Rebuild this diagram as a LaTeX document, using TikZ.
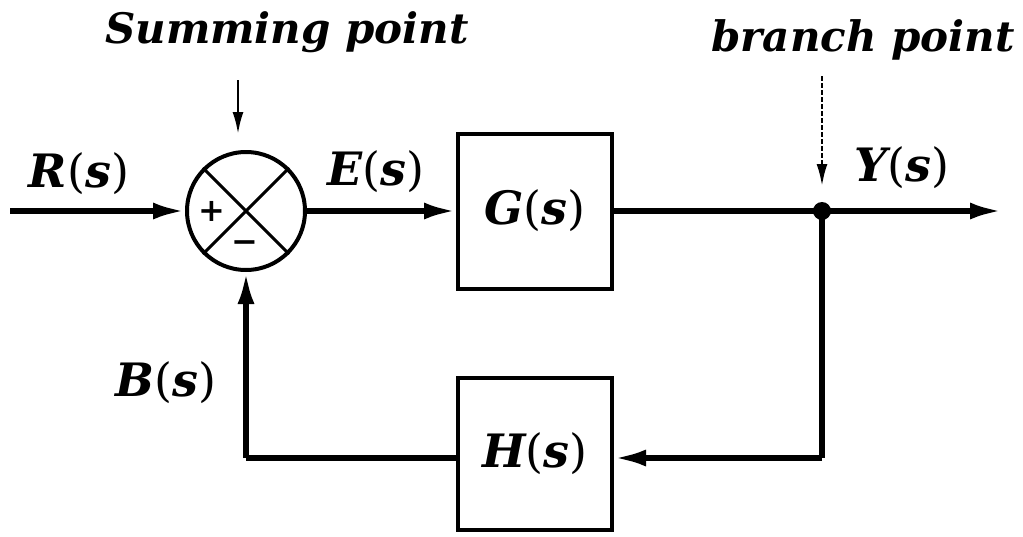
\documentclass[tikz,border=0pt]{standalone}
\usepackage{fontspec}
\setmainfont{DejaVu Serif}
\usetikzlibrary{arrows.meta}
\newcommand{\lbl}[1]{{\bfseries\itshape #1}{\mdseries\upshape(}{\bfseries\itshape s}{\mdseries\upshape)}}
\tikzset{
  wire/.style={line width=5.5pt},
  arr/.style={wire,-{Latex[length=32pt,width=17pt]}},
  blk/.style={draw,line width=4pt,minimum width=154pt,minimum height=155pt,inner sep=0pt,font=\fontsize{46}{50}\selectfont},
  lab/.style={font=\fontsize{46}{50}\selectfont,inner sep=0pt},
  ttl/.style={font=\fontsize{42}{46}\selectfont\bfseries\itshape,inner sep=0pt},
  pointer/.style={line width=2.5pt,-{Latex[length=22pt,width=11pt]}},
  sign/.style={font=\fontsize{32}{32}\selectfont\bfseries,inner sep=0pt}
}
\begin{document}
\begin{tikzpicture}[x=1pt,y=-1pt]
\useasboundingbox (0,0) rectangle (1023,536);
% summing junction
\node[draw,circle,line width=4pt,minimum size=118pt,inner sep=0pt] (sum) at (246,211) {};
\draw[line width=3pt] (sum.45) -- (sum.225) (sum.135) -- (sum.315);
\node[sign] (plus) at (212,211) {+};
\node[sign] (minus) at (245,247) {−};
% blocks
\node[blk] (G) at (535,211) {\lbl{G}};
\node[blk,minimum height=152pt] (H) at (535,454) {\lbl{H}};
% coordinates
\coordinate (in) at (10,211);
\coordinate (out) at (1002,211);
\coordinate (br) at (822,211);
\coordinate (brd) at (822,458);
\coordinate (fbl) at (246,458);
\fill (br) circle (9pt);
% connectors
\draw[arr] (in) -- (sum.west);
\draw[arr] (sum.east) -- (G.west);
\draw[wire] (G.east) -- (br);
\draw[arr] (br) -- (out);
\draw[wire] (br) -- (brd);
\draw[arr] (brd) -- (H.east |- brd);
\draw[wire] (H.west |- fbl) -- (fbl);
\draw[arr] (fbl) -- (sum.south);
% labels
\node[lab] (R) at (79,174) {\lbl{R}};
\node[lab] (E) at (376,172) {\lbl{E}};
\node[lab] (Y) at (902,168) {\lbl{Y}};
\node[lab] (B) at (166,383) {\lbl{B}};
\node[ttl] (sp) at (287,32) {Summing point};
\node[ttl] (bp) at (863,40) {branch point};
\coordinate (spa) at (238,80);
\coordinate (bpa) at (822,76);
\draw[pointer] (spa) -- (238,134);
\draw[pointer,dashed,dash pattern=on 5pt off 2pt] (bpa) -- (822,186);
\end{tikzpicture}
\end{document}
